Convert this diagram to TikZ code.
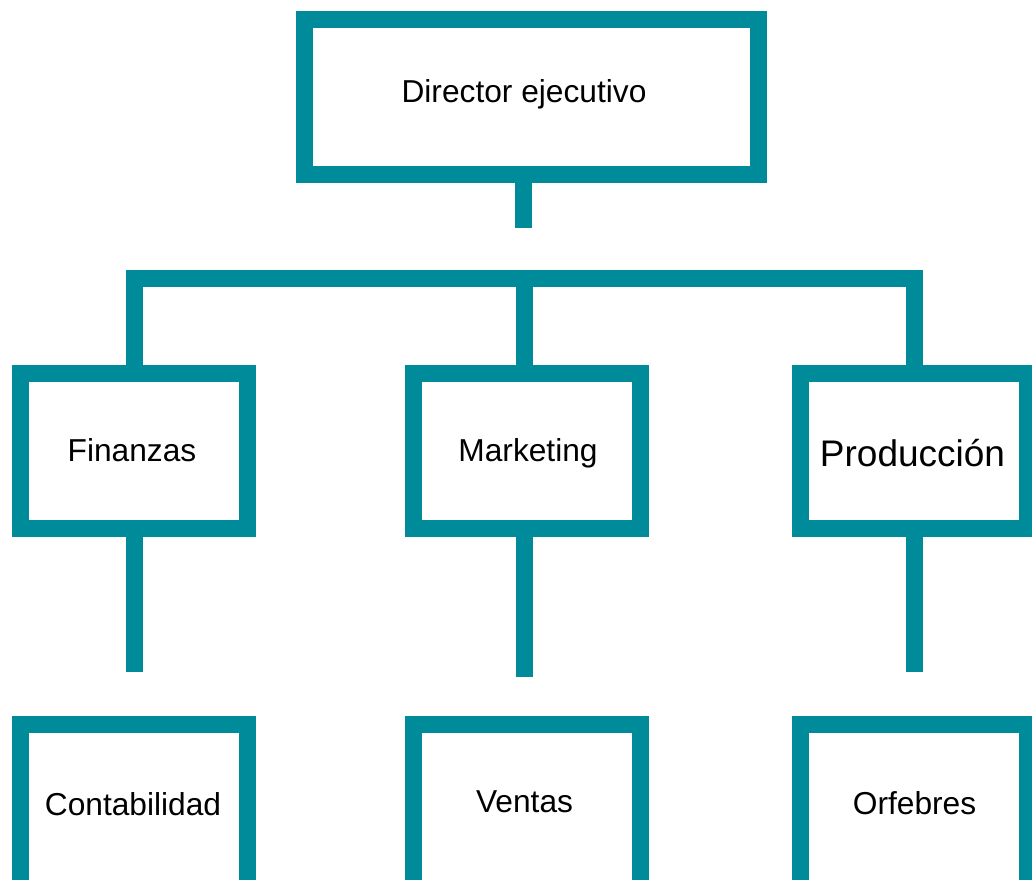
\documentclass[tikz,border=0pt]{standalone}
\usepackage{fontspec}
\setmainfont{Liberation Sans}
\definecolor{teal1}{RGB}{0,139,155}
\begin{document}
\begin{tikzpicture}[x=1pt,y=-1pt,
  box/.style={draw=teal1,line width=17pt,rectangle,minimum width=227pt,minimum height=155pt,inner sep=0pt,fill=white},
  lbl/.style={font=\fontsize{31.7}{38}\selectfont,inner sep=0pt,anchor=center,text=black},
  conn/.style={draw=teal1,line width=17pt,line cap=butt,line join=miter}]
\clip (0,0) rectangle (1032,879);
% boxes
\node[box,minimum width=454pt] (ceo) at (531,97) {};
\node[box] (fin) at (134,450.5) {};
\node[box] (mkt) at (527,450.5) {};
\node[box] (prod) at (914,450.5) {};
\node[box,minimum height=200pt] (cont) at (134,824.5) {};
\node[box,minimum height=200pt] (vent) at (527,824.5) {};
\node[box,minimum height=200pt] (orf) at (914,824.5) {};
% labels
\node[lbl] (tceo) at (524,94) {Director ejecutivo};
\node[lbl] (tfin) at (132,450) {Finanzas};
\node[lbl] (tmkt) at (528,453) {Marketing};
\node[lbl,font=\fontsize{37}{44}\selectfont] (tprod) at (912.5,453) {Producción};
\node[lbl] (tcont) at (133,804) {Contabilidad};
\node[lbl] (tvent) at (524.5,802) {Ventas};
\node[lbl] (torf) at (914.5,803) {Orfebres};
% coordinates
\coordinate (ceostub) at (523.5,228);
\coordinate (barL) at (134,278.5);
\coordinate (barM) at (524,278.5);
\coordinate (finstub) at (134,672);
\coordinate (mktstub) at (524,677);
\coordinate (prodstub) at (914,672);
% connectors
\draw[conn] (ceo.south -| ceostub) -- (ceostub);
\draw[conn] (fin.north) -- (barL) -| (prod.north);
\draw[conn] (barM) -- (mkt.north -| barM);
\draw[conn] (fin.south) -- (finstub);
\draw[conn] (mkt.south -| mktstub) -- (mktstub);
\draw[conn] (prod.south) -- (prodstub);
\end{tikzpicture}
\end{document}
